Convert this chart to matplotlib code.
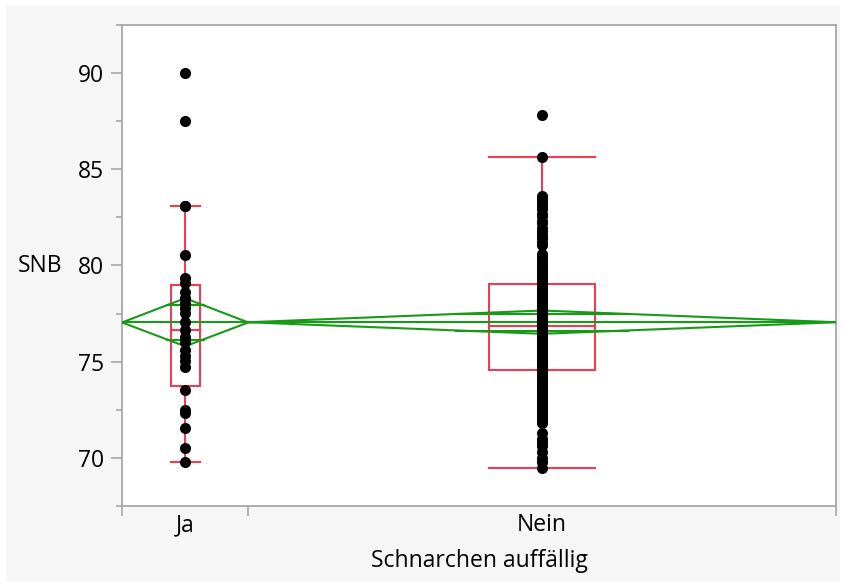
import matplotlib.pyplot as plt
from matplotlib.ticker import MultipleLocator, FixedLocator, NullFormatter
from matplotlib.patches import Rectangle

plt.rcParams['font.family'] = ['Open Sans', 'DejaVu Sans']

groups = ["Ja", "Nein"]

ja_snb = [90.0, 87.5, 83.1, 83.1, 80.55, 79.35, 79.1, 78.6, 78.3, 78.05, 77.8,
          77.55, 77.05, 76.65, 76.3, 76.0, 75.6, 75.3, 75.05, 74.7, 73.55,
          72.5, 72.35, 71.55, 70.5, 69.8]

nein_snb = [87.8, 85.65, 83.6, 83.45, 83.3, 83.1, 82.95, 82.7, 82.55, 82.3,
            82.2, 81.95, 81.8, 81.6, 81.45, 81.2, 81.05, 80.6, 80.45, 80.25,
            80.1, 79.95, 79.8, 79.7, 79.55, 79.45, 79.35, 79.25, 79.15, 79.1,
            79.0, 78.95, 78.85, 78.75, 78.7, 78.6, 78.5, 78.4, 78.35, 78.25,
            78.15, 78.05, 77.95, 77.9, 77.8, 77.7, 77.65, 77.55, 77.45, 77.4,
            77.3, 77.25, 77.15, 77.1, 77.05, 77.0, 76.98, 76.95, 76.92, 76.9,
            76.87,
            76.85, 76.8, 76.7, 76.65, 76.55, 76.5, 76.4, 76.3, 76.25, 76.15,
            76.05, 76.0, 75.9, 75.8, 75.75, 75.65, 75.55, 75.5, 75.4, 75.3,
            75.25, 75.15, 75.05, 75.0, 74.9, 74.85, 74.75, 74.7, 74.65, 74.6,
            74.5, 74.4, 74.3, 74.2, 74.05, 73.95, 73.8, 73.7, 73.55, 73.4,
            73.3, 73.15, 73.0, 72.9, 72.75, 72.6, 72.5, 72.35, 72.2, 72.1,
            71.95, 71.8, 71.3, 71.0, 70.8, 70.6, 70.3, 70.0, 69.8, 69.5]

# summary stats as shown by JMP (box plot + means diamonds)
q1 = [73.75, 74.58]
medians = [76.66, 76.87]
q3 = [79.0, 79.05]
whisk_lo = [69.8, 69.5]
whisk_hi = [83.1, 85.65]
means = [77.04, 77.05]
ci_lo = [75.8, 76.45]
ci_hi = [78.3, 77.66]
grand_mean = 77.05

data = [ja_snb, nein_snb]
counts = [len(d) for d in data]
edges = [0, counts[0], counts[0] + counts[1]]
centers = [(edges[i] + edges[i + 1]) / 2 for i in range(2)]

red = '#f03c52'
green = '#179a17'
gray = '#a8a8a8'
fs = 16.5

fig = plt.figure(figsize=(8.44, 5.86), dpi=100, facecolor='white')
fig.patches.append(Rectangle((6 / 844, 4 / 586), 834 / 844, 576 / 586,
                             transform=fig.transFigure, facecolor='#f6f6f6',
                             edgecolor='none', zorder=-10))
ax = fig.add_axes([122 / 844, 1 - 506 / 586, 714 / 844, 481 / 586])
ax.set_facecolor('white')

# box plots
box_frac = [0.23, 0.18]
for i in range(2):
    hw = counts[i] * box_frac[i] / 2
    c = centers[i]
    ax.add_patch(Rectangle((c - hw, q1[i]), 2 * hw, q3[i] - q1[i],
                           fill=False, edgecolor=red, lw=1.5, zorder=2))
    ax.plot([c - hw, c + hw], [medians[i]] * 2, color=red, lw=1.5, zorder=2)
    ax.plot([c, c], [q3[i], whisk_hi[i]], color=red, lw=1.5, zorder=2)
    ax.plot([c, c], [whisk_lo[i], q1[i]], color=red, lw=1.5, zorder=2)
    ax.plot([c - hw, c + hw], [whisk_hi[i]] * 2, color=red, lw=1.5, zorder=2)
    ax.plot([c - hw, c + hw], [whisk_lo[i]] * 2, color=red, lw=1.5, zorder=2)

# means diamonds
ax.plot([edges[0], edges[2]], [grand_mean] * 2, color=green, lw=1.5, zorder=3)
for i in range(2):
    l, r, c = edges[i], edges[i + 1], centers[i]
    ax.plot([l, c, r, c, l], [means[i], ci_hi[i], means[i], ci_lo[i], means[i]],
            color=green, lw=1.5, zorder=3)
    h = (ci_hi[i] - means[i]) / 2 ** 0.5
    w = (r - c) * (1 - 1 / 2 ** 0.5)
    ax.plot([c - w, c + w], [means[i] + h] * 2, color=green, lw=1.5, zorder=3)
    ax.plot([c - w, c + w], [means[i] - h] * 2, color=green, lw=1.5, zorder=3)

# points
for i in range(2):
    ax.plot([centers[i]] * counts[i], data[i], 'o', color='black',
            markersize=8, markeredgewidth=0, zorder=4)

ax.set_xlim(edges[0], edges[2])
ax.set_ylim(67.5, 92.5)

for s in ax.spines.values():
    s.set_color(gray)
    s.set_linewidth(1.3)

ax.yaxis.set_major_locator(MultipleLocator(5))
ax.yaxis.set_minor_locator(MultipleLocator(2.5))
ax.tick_params(axis='y', which='major', length=8, width=1.2, color=gray,
               labelsize=fs, pad=5)
ax.tick_params(axis='y', which='minor', length=4.5, width=1.2, color=gray)

ax.xaxis.set_major_locator(FixedLocator(edges))
ax.xaxis.set_major_formatter(NullFormatter())
ax.xaxis.set_minor_locator(FixedLocator(centers))
ax.set_xticklabels(groups, minor=True)
ax.tick_params(axis='x', which='major', length=7.5, width=1.2, color=gray)
ax.tick_params(axis='x', which='minor', length=0, labelsize=fs, pad=5)

ax.set_xlabel('Schnarchen auffällig', fontsize=fs, labelpad=9)
ax.set_ylabel('SNB', fontsize=fs, rotation=0, ha='right', va='center')
ax.yaxis.set_label_coords(-60 / 714, 0.5)

fig.savefig('out.png', dpi=100, facecolor=fig.get_facecolor())
